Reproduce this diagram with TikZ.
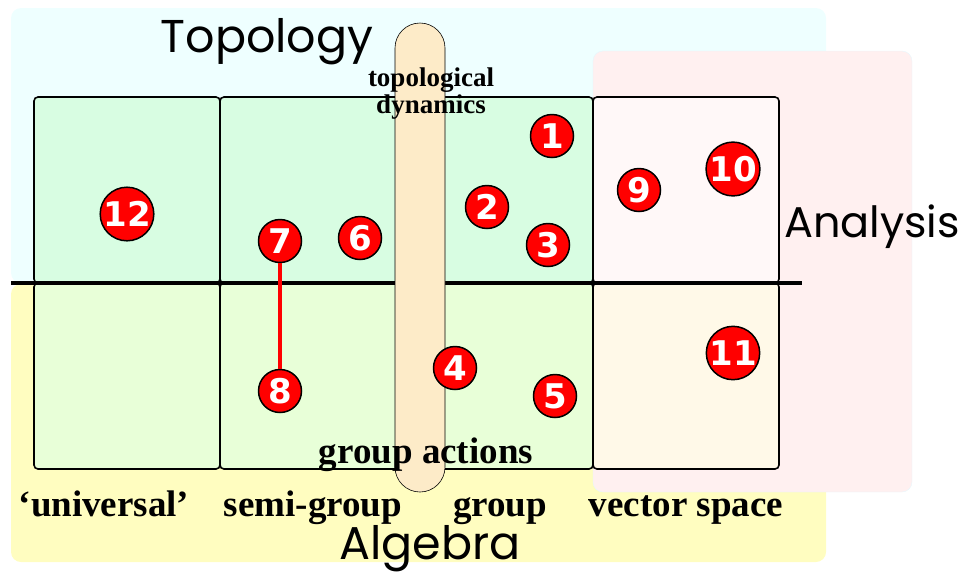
\documentclass[tikz,border=0pt]{standalone}
\usepackage{fontspec}
\setmainfont{Liberation Serif}
\newfontfamily\gothic{Poppins}
\newfontfamily\numfont{DejaVu Sans}
\definecolor{topobg}{HTML}{EEFFFF}
\definecolor{algbg}{HTML}{FFFDC0}
\definecolor{anabg}{HTML}{FFF0F0}
\definecolor{cellgreen}{HTML}{D8FDE2}
\definecolor{cellyellow}{HTML}{E8FFD8}
\definecolor{cellpink}{HTML}{FFF8F8}
\definecolor{cellcream}{HTML}{FFF9E8}
\definecolor{pill}{HTML}{FDEBC8}
\begin{document}
\begin{tikzpicture}[x=1pt, y=-1pt,
        field/.style={rounded corners=10pt},
        cell/.style={draw=black, line width=1.6pt, rounded corners=4pt},
        num/.style={circle, draw=black, line width=1.5pt, fill=red, minimum size=43pt,
            inner sep=0pt, text=white, font=\numfont\bfseries\fontsize{34}{34}\selectfont},
        kind/.style={anchor=base, font=\bfseries\fontsize{37}{37}\selectfont},
        area/.style={anchor=base, font=\gothic\fontsize{46}{46}\selectfont}]
    \useasboundingbox (0,0) rectangle (963,571);

    \fill[topobg, field] (11,8) rectangle (826,283);
    \fill[algbg, field] (11,284) rectangle (826,562);
    \filldraw[anabg, draw=cyan!10, field] (593,51) rectangle (912,492);

    \filldraw[cell, fill=cellgreen] (34,97) rectangle (220,283);
    \filldraw[cell, fill=cellgreen] (220,97) rectangle (593,283);
    \filldraw[cell, fill=cellpink] (593,97) rectangle (779,283);
    \filldraw[cell, fill=cellyellow] (34,283) rectangle (220,469);
    \filldraw[cell, fill=cellyellow] (220,283) rectangle (593,469);
    \filldraw[cell, fill=cellcream] (593,283) rectangle (779,469);

    \draw[black, line width=3.5pt] (11,283) -- (802,283);

    \filldraw[fill=pill, draw=black, line width=0.6pt, rounded corners=25pt]
        (395,23) rectangle (445,492);

    \node[area] (topo) at (267,52) {Topology};
    \node[area, font=\gothic\fontsize{43}{43}\selectfont] (ana) at (872,237) {Analysis};
    \node[area] (alg) at (430,559) {Algebra};

    \node[font=\bfseries\fontsize{27}{27}\selectfont, align=center, anchor=base] (dyn) at (431,113)
        {topological\\dynamics};
    \node[kind] (act) at (426,463) {group actions};

    \node[kind] (univ) at (104,516) {‘universal’};
    \node[kind] (semi) at (313,516) {semi-group};
    \node[kind] (grp) at (500,516) {group};
    \node[kind] (vec) at (686,516) {vector space};

    \node[num] (n7) at (280,241) {7};
    \node[num] (n8) at (280,391) {8};
    \draw[red, line width=3.5pt] (n7) -- (n8);

    \node[num] (n1) at (552,136) {1};
    \node[num] (n2) at (487,207) {2};
    \node[num] (n3) at (548,245) {3};
    \node[num] (n4) at (455,368) {4};
    \node[num] (n5) at (555,396) {5};
    \node[num] (n6) at (360,238) {6};
    \node[num] (n9) at (639,190) {9};
    \node[num] (n10) at (733,169) {10};
    \node[num] (n11) at (733,353) {11};
    \node[num] (n12) at (127,214) {12};
\end{tikzpicture}
\end{document}
